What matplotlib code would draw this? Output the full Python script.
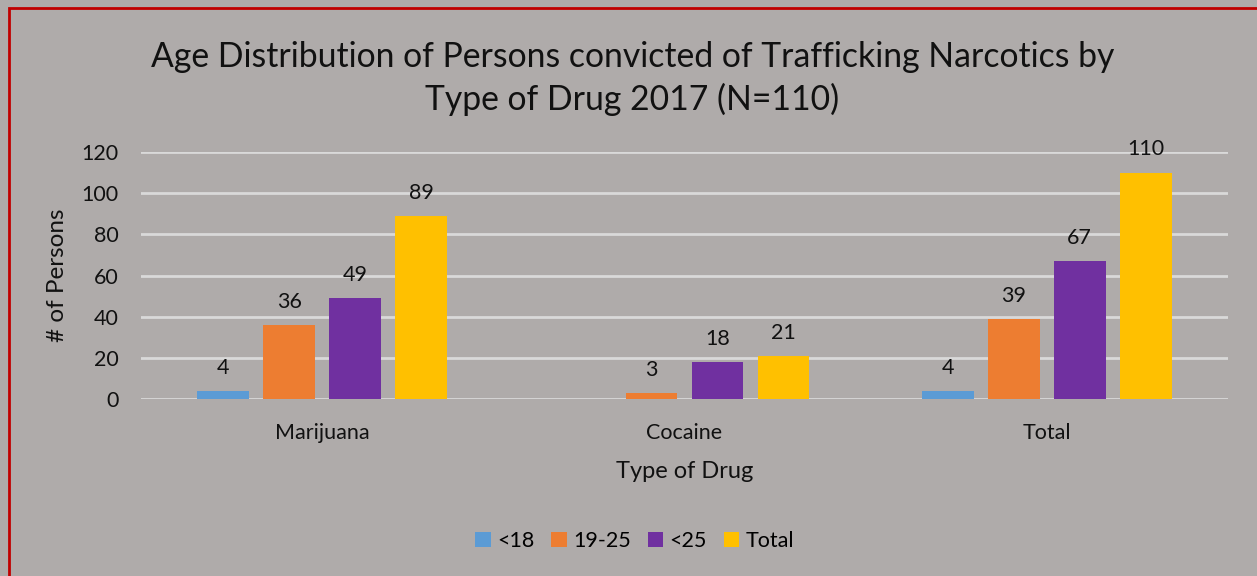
import numpy as np
import matplotlib.pyplot as plt
from matplotlib.patches import Rectangle

plt.rcParams['font.family'] = ['Lato', 'DejaVu Sans']

drugs = ["Marijuana", "Cocaine", "Total"]
age_groups = ["<18", "19-25", "<25", "Total"]
under_18 = [4, 0, 4]
age_19_25 = [36, 3, 39]
under_25 = [49, 18, 67]
total = [89, 21, 110]
y_ticks = [0, 20, 40, 60, 80, 100, 120]

series = [under_18, age_19_25, under_25, total]
colors = ["#5B9BD5", "#ED7D31", "#7030A0", "#FFC000"]
bg = "#AFABAA"

fig = plt.figure(figsize=(12.57, 5.76), dpi=100, facecolor=bg)
ax = fig.add_axes([141/1257, 1 - 399/576, (1228 - 141)/1257, (399 - 152)/576])
ax.set_facecolor(bg)

x = np.arange(len(drugs))
step = 0.182
width = 0.143
for i, (vals, name, c) in enumerate(zip(series, age_groups, colors)):
    pos = x + (i - 1.5) * step
    bars = ax.bar(pos, vals, width, color=c, label=name, zorder=3)
    for b, v in zip(bars, vals):
        if v == 0:
            continue
        ax.annotate(str(v), (b.get_x() + b.get_width() / 2, v),
                    xytext=(0, 9.5), textcoords="offset points",
                    ha="center", va="bottom", fontsize=15.5, color="#111111")

ax.set_xlim(-0.5, 2.5)
ax.set_ylim(0, 120)
ax.set_yticks(y_ticks)
ax.set_xticks(x)
ax.set_xticklabels(drugs)
ax.yaxis.grid(True, color="#D9D9D9", linewidth=2, zorder=0)
ax.tick_params(length=0, labelsize=15.5, colors="#111111")
ax.tick_params(axis="x", pad=17)
ax.tick_params(axis="y", pad=16)
for s in ax.spines.values():
    s.set_visible(False)

ax.set_ylabel("# of Persons", fontsize=17.5, color="#111111", labelpad=10)
ax.set_xlabel("Type of Drug", fontsize=17, color="#111111", labelpad=13)

fig.text(0.503, 1 - 41/576,
         "Age Distribution of Persons convicted of Trafficking Narcotics by\nType of Drug 2017 (N=110)",
         ha="center", va="top", fontsize=24.3, color="#111111", linespacing=1.38)

fig.legend(loc="center", bbox_to_anchor=(0.505, 1 - 541/576), ncol=4,
           frameon=False, fontsize=15.5, handlelength=0.7, handleheight=0.7,
           handletextpad=0.3, columnspacing=0.8)

fig.patches.append(Rectangle((9/1257, -0.05), 1.1, 1 - 8/576 + 0.05,
                             transform=fig.transFigure, fill=False,
                             edgecolor="#C00000", linewidth=2))

fig.savefig("out.png", dpi=100, facecolor=bg)
